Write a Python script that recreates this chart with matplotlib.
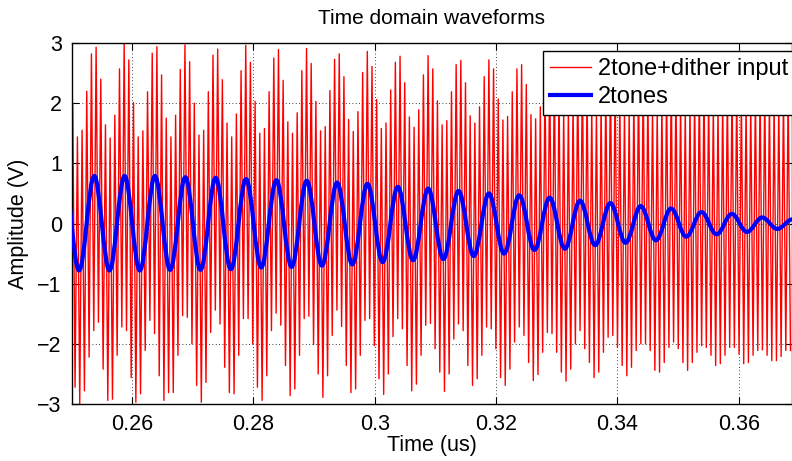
import numpy as np
import matplotlib.pyplot as plt
from matplotlib.path import Path
from matplotlib.patches import PathPatch
from matplotlib.lines import Line2D
from matplotlib.ticker import FuncFormatter

plt.rcParams['font.family'] = ['Liberation Sans', 'DejaVu Sans']

# 2tone+dither input: tip of every fast cycle
red_t0 = 0.2502          # time of the first peak (us)
red_period = 0.000771    # one fast cycle (us)
red_peaks = [
    2.0, 1.44, 1.55, 2.2, 2.82, 2.93, 2.4, 1.64, 1.42, 1.8, 2.57, 3.0, 2.72, 2.01, 1.44, 1.54,
    2.19, 2.83, 2.94, 2.47, 1.75, 1.44,
    1.8, 2.56, 2.97, 2.69, 2.0, 1.47, 1.55, 2.19, 2.8, 2.9, 2.39, 1.67, 1.44, 1.82, 2.54, 2.96,
    2.68, 2.03, 1.5, 1.58, 2.19, 2.75,
    2.89, 2.38, 1.69, 1.5, 1.84, 2.54, 2.91, 2.66, 2.03, 1.54, 1.61, 2.21, 2.73, 2.82, 2.44, 1.73,
    1.53, 1.86, 2.51, 2.86, 2.61, 2.06,
    1.58, 1.67, 2.22, 2.68, 2.78, 2.34, 1.77, 1.6, 1.89, 2.47, 2.79, 2.57, 2.04, 1.64, 1.71, 2.19,
    2.64, 2.71, 2.34, 1.79, 1.67, 1.94,
    2.44, 2.72, 2.57, 2.07, 1.72, 1.78, 2.19, 2.57, 2.64, 2.31, 1.81, 1.74, 1.94,
    2.4, 2.6, 2.55, 2.25, 1.9, 1.9, 2.05, 2.45, 2.55, 2.3, 1.95, 1.9, 2.0, 2.3, 2.5, 2.4, 2.1,
    1.9, 1.9, 2.15, 2.4, 2.45, 2.2, 1.95, 1.9, 2.05, 2.3, 2.4, 2.3, 2.05, 1.95, 2.0, 2.2, 2.35,
    2.35, 2.15, 2.0, 1.95, 2.1, 2.25, 2.3, 2.25, 2.1, 2.0, 2.05, 2.2, 2.25, 2.25, 2.1, 2.05,
    2.05, 2.15, 2.2,
]
red_troughs = [
    -2.72, -3.0, -2.78, -2.22, -1.78, -1.64, -2.42, -2.94, -2.92, -2.19, -1.72, -1.78, -2.56,
    -2.97, -2.83, -2.11, -1.61, -1.83, -2.53, -2.94, -2.81,
    -2.81, -2.19, -1.53, -1.56, -2.0, -2.69, -2.97, -2.64, -1.81, -1.44, -1.67, -2.39, -2.81,
    -2.83, -2.19, -1.58, -1.58, -2.0, -2.72, -2.94, -2.53, -1.78,
    -1.49, -1.69, -2.36, -2.86, -2.75, -2.19, -1.58, -1.54, -2.01, -2.5, -2.89, -2.53, -1.86,
    -1.44, -1.71, -2.36, -2.81, -2.75, -2.19, -1.61, -1.58, -2.03,
    -2.58, -2.84, -2.5, -1.88, -1.58, -1.75, -2.36, -2.78, -2.67, -2.19, -1.69, -1.66, -2.08,
    -2.47, -2.79, -2.5, -1.92, -1.67, -1.78, -2.36, -2.69, -2.58,
    -2.19, -1.72, -1.75, -2.08, -2.56, -2.69, -2.42, -1.97, -1.72, -1.86, -2.31, -2.61, -2.51,
    -2.14, -1.81, -1.83, -2.14, -2.47, -2.62, -2.42, -2.0, -1.78,
    -2.08, -2.31, -2.56, -2.47, -2.14, -1.89, -1.86, -2.06, -2.36, -2.53, -2.39, -2.11, -2.0,
    -2.0, -2.11, -2.44, -2.47, -2.31, -2.06, -1.97, -2.08, -2.31,
    -2.44, -2.31, -2.14, -2.03, -2.06, -2.19, -2.36, -2.33, -2.19, -2.06, -2.06, -2.17, -2.33,
    -2.31, -2.19, -2.11, -2.1, -2.19, -2.28, -2.28, -2.21, -2.11, -2.11,
]

# 2tones: successive peaks / troughs of the slow wave
blue_t0 = 0.24874        # extreme just left of the axes
blue_half = 0.002503     # half period (us)
blue_ext = [
    0.80, -0.78, 0.79, -0.78, 0.79, -0.78, 0.79, -0.77, 0.77, -0.77, 0.76, -0.76, 0.74, -0.73,
    0.72, -0.72, 0.71, -0.70, 0.68, -0.68, 0.66, -0.64, 0.61, -0.61, 0.58, -0.59, 0.54, -0.54,
    0.50, -0.50, 0.47, -0.44, 0.43, -0.42, 0.38, -0.36, 0.34, -0.32, 0.29, -0.28, 0.25, -0.22,
    0.19, -0.18, 0.16, -0.14, 0.10, -0.09, 0.07,
]

fig = plt.figure(figsize=(7.92, 4.61), dpi=100)
ax = fig.add_axes([0.0903, 0.1236, 0.9097, 0.7831])

# red zigzag: peak, trough, peak, ...
red_v = np.empty(2 * len(red_peaks))
red_v[0::2] = red_peaks
red_v[1::2] = red_troughs
red_t = red_t0 + np.arange(len(red_v)) * red_period / 2
ax.plot(red_t, red_v, color='#ff0000', lw=1.0, zorder=2)

# blue: smooth half waves between extremes (cubic bezier, flat at the tips)
bt = blue_t0 + np.arange(len(blue_ext)) * blue_half
a = 0.364
verts = [(bt[0], blue_ext[0])]
codes = [Path.MOVETO]
for i in range(len(bt) - 1):
    d = bt[i + 1] - bt[i]
    verts += [(bt[i] + a * d, blue_ext[i]), (bt[i + 1] - a * d, blue_ext[i + 1]),
              (bt[i + 1], blue_ext[i + 1])]
    codes += [Path.CURVE4] * 3
ax.add_patch(PathPatch(Path(verts, codes), fill=False, edgecolor='#0000ff', lw=3.0,
                       capstyle='round', joinstyle='round', zorder=3))

ax.set_xlim(0.25, 0.25 + 0.1188)
ax.set_ylim(-3, 3)
ax.set_xticks([0.26, 0.28, 0.30, 0.32, 0.34, 0.36])
ax.set_yticks([-3, -2, -1, 0, 1, 2, 3])
fmt = FuncFormatter(lambda v, p: ('%g' % round(v, 4)).replace('-', '\u2212'))
ax.xaxis.set_major_formatter(fmt)
ax.yaxis.set_major_formatter(fmt)
ax.tick_params(direction='in', top=True, right=True, labelsize=15.5, length=5, pad=7)
ax.grid(True, color='black', linestyle=(0, (1, 3)), lw=0.6)
for s in ax.spines.values():
    s.set_linewidth(1.0)

ax.set_title('Time domain waveforms', fontsize=15, pad=14)
ax.set_xlabel('Time (us)', fontsize=15.5, labelpad=0)
ax.set_ylabel('Amplitude (V)', fontsize=15.5, labelpad=6)

handles = [Line2D([], [], color='#ff0000', lw=1.0),
           Line2D([], [], color='#0000ff', lw=3.0)]
leg = ax.legend(handles, ['2tone+dither input', '2tones'], loc='upper left',
                bbox_to_anchor=(0.654, 0.978), fontsize=17, fancybox=False, framealpha=1,
                edgecolor='black', borderpad=0.3, labelspacing=0.25, handlelength=1.75,
                handletextpad=0.3, borderaxespad=0)
leg.get_frame().set_linewidth(1.0)

fig.savefig('out.png', dpi=100)
